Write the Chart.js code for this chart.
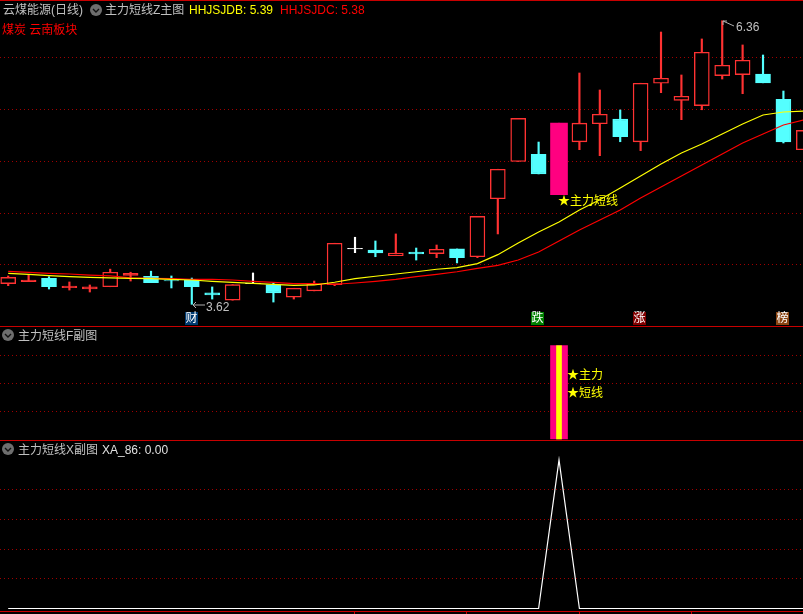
<!DOCTYPE html>
<html>
<head>
<meta charset="utf-8">
<title>云煤能源</title>
<style>
html, body { margin: 0; padding: 0; background: #000; }
#wrap { position: relative; width: 803px; height: 614px; overflow: hidden; background: #000;
    font: 12px "Liberation Sans", "Noto Sans CJK SC", sans-serif; }
.panel { position: absolute; left: 0; width: 803px; }
.panel canvas { display: block; }
.sep { position: absolute; left: 0; width: 803px; height: 1px; background: #c80000; }
.mark { position: absolute; top: 611px; width: 1px; height: 3px; background: #c80000; }
.t { position: absolute; white-space: pre; line-height: 14px; color: #c0c0c0; }
.badge { position: absolute; top: 312px; width: 13px; height: 13px; line-height: 13px; font-size: 12px; text-align: center; color: #fff; }
.icon { position: absolute; }
</style>
</head>
<body>
<div id="wrap">
    <div class="panel" style="top:1px;height:325px"><canvas id="mainChart"></canvas></div>
    <div class="panel" style="top:327px;height:113px"><canvas id="fChart"></canvas></div>
    <div class="panel" style="top:441px;height:170px"><canvas id="xChart"></canvas></div>

    <div class="sep" style="top:0"></div>
    <div class="sep" style="top:326px"></div>
    <div class="sep" style="top:440px"></div>
    <div class="sep" style="top:611px"></div>
    <div class="mark" style="left:354px"></div>
    <div class="mark" style="left:466px"></div>
    <div class="mark" style="left:579px"></div>
    <div class="mark" style="left:691px"></div>

    <span class="t" style="left:3px;top:3px">云煤能源(日线)</span>
    <svg class="icon" style="left:90px;top:4px" width="12" height="12"><circle cx="6" cy="6" r="6" fill="#6e6e6e"/><path d="M3 5l3 3 3-3" stroke="#111" stroke-width="1.4" fill="none"/></svg>
    <span class="t" style="left:105px;top:3px">主力短线Z主图</span>
    <span class="t" style="left:189px;top:3px;color:#ffff00">HHJSJDB: 5.39</span>
    <span class="t" style="left:280px;top:3px;color:#ff0000">HHJSJDC: 5.38</span>
    <span class="t" style="left:2px;top:23px;color:#ff0000">煤炭 云南板块</span>

    <svg class="icon" style="left:722px;top:20px" width="14" height="10"><path d="M1 1l11 5M1 1h4M1 1v4" stroke="#b0b0b0" fill="none"/></svg>
    <span class="t" style="left:736px;top:20px">6.36</span>
    <svg class="icon" style="left:192px;top:301px" width="14" height="8"><path d="M1 4h12M1 4l3-3M1 4l3 3" stroke="#b0b0b0" fill="none"/></svg>
    <span class="t" style="left:206px;top:300px">3.62</span>
    <span class="t" style="left:558px;top:194px;color:#ffff00">★主力短线</span>

    <div class="badge" style="left:185px;background:#003a70">财</div>
    <div class="badge" style="left:531px;background:#008000">跌</div>
    <div class="badge" style="left:633px;background:#800000">涨</div>
    <div class="badge" style="left:776px;background:#8b4513">榜</div>

    <svg class="icon" style="left:2px;top:329px" width="12" height="12"><circle cx="6" cy="6" r="6" fill="#6e6e6e"/><path d="M3 5l3 3 3-3" stroke="#111" stroke-width="1.4" fill="none"/></svg>
    <span class="t" style="left:18px;top:329px">主力短线F副图</span>
    <span class="t" style="left:567px;top:368px;color:#ffff00">★主力</span>
    <span class="t" style="left:567px;top:386px;color:#ffff00">★短线</span>

    <svg class="icon" style="left:2px;top:443px" width="12" height="12"><circle cx="6" cy="6" r="6" fill="#6e6e6e"/><path d="M3 5l3 3 3-3" stroke="#111" stroke-width="1.4" fill="none"/></svg>
    <span class="t" style="left:18px;top:443px">主力短线X副图</span>
    <span class="t" style="left:102px;top:443px;color:#e0e0e0">XA_86: 0.00</span>
</div>

<script src="https://cdn.jsdelivr.net/npm/chart.js@4/dist/chart.umd.min.js"></script>
<script>
// Prices
const opens  = [3.82, 3.84, 3.87, 3.78, 3.77, 3.79, 3.90, 3.89, 3.85, 3.855, 3.73, 3.66, 3.82, 3.81, 3.69, 3.75, 3.81, 4.155, 4.145, 4.09, 4.126, 4.11, 4.155, 4.08, 4.64, 5.00, 5.07, 4.68, 5.19, 5.365, 5.41, 5.19, 5.756, 5.59, 5.54, 5.83, 5.84, 5.845, 5.60, 5.114];
const closes = [3.88, 3.855, 3.79, 3.797, 3.788, 3.93, 3.92, 3.83, 3.845, 3.79, 3.71, 3.81, 3.826, 3.73, 3.775, 3.816, 4.21, 4.161, 4.116, 4.116, 4.106, 4.152, 4.07, 4.47, 4.925, 5.417, 4.88, 5.37, 5.37, 5.456, 5.24, 5.756, 5.804, 5.63, 6.055, 5.93, 5.978, 5.76, 5.19, 5.30];
const highs  = [3.894, 3.91, 3.887, 3.836, 3.807, 3.96, 3.93, 3.94, 3.894, 3.874, 3.788, 3.81, 3.923, 3.826, 3.775, 3.845, 4.21, 4.268, 4.232, 4.30, 4.164, 4.193, 4.155, 4.47, 4.925, 5.417, 5.188, 5.37, 5.855, 5.691, 5.498, 5.756, 6.251, 5.836, 6.184, 6.36, 6.126, 6.029, 5.681, 5.30];
const lows   = [3.80, 3.84, 3.768, 3.758, 3.739, 3.79, 3.845, 3.83, 3.778, 3.62, 3.671, 3.66, 3.82, 3.642, 3.671, 3.75, 3.80, 4.119, 4.08, 4.09, 4.048, 4.071, 4.02, 4.071, 4.30, 5.00, 4.88, 4.68, 5.114, 5.056, 5.191, 5.105, 5.665, 5.404, 5.50, 5.797, 5.655, 5.76, 5.179, 5.114];
const kinds  = ['up', 'up', 'down', 'up', 'up', 'up', 'up', 'down', 'down', 'down', 'down', 'up', 'flat', 'down', 'up', 'up', 'up', 'flat', 'down', 'up', 'down', 'up', 'down', 'up', 'up', 'up', 'down', 'signal', 'up', 'up', 'down', 'up', 'up', 'up', 'up', 'up', 'up', 'down', 'down', 'up'];

// Moving lines of the main panel
const hhjsjdb = [3.92, 3.91, 3.897, 3.887, 3.881, 3.875, 3.871, 3.868, 3.862, 3.855, 3.842, 3.833, 3.823, 3.813, 3.804, 3.807, 3.833, 3.868, 3.891, 3.913, 3.935, 3.959, 3.974, 4.013, 4.10, 4.213, 4.319, 4.415, 4.531, 4.631, 4.744, 4.86, 4.976, 5.082, 5.169, 5.266, 5.362, 5.449, 5.478, 5.488];
const hhjsjdc = [3.939, 3.929, 3.92, 3.913, 3.903, 3.894, 3.875, 3.871, 3.868, 3.862, 3.862, 3.855, 3.842, 3.833, 3.82, 3.82, 3.814, 3.826, 3.842, 3.862, 3.887, 3.91, 3.935, 3.968, 3.997, 4.048, 4.126, 4.232, 4.338, 4.435, 4.531, 4.647, 4.754, 4.86, 4.966, 5.073, 5.179, 5.266, 5.353, 5.401];

const priceTicks = [6, 5.5, 5, 4.5, 4];

// Lower panels: signal column and XA_86 line
const signalIndex = 27;
const signalValue = [1];
const xa86 = [0, 0, 0, 0, 0, 0, 0, 0, 0, 0, 0, 0, 0, 0, 0, 0, 0, 0, 0, 0, 0, 0, 0, 0, 0, 0, 0, 1, 0, 0, 0, 0, 0, 0, 0, 0, 0, 0, 0, 0];
const fTicks = [0.9, 0.6, 0.3];
const xTicks = [0.8, 0.6, 0.4, 0.2];
const dayIndex = opens.map((v, i) => i);

const RED = '#ff3232';
const CYAN = '#54ffff';
const PINK = '#ff0080';
const GRID = '#a00000';

const kindColor = { up: RED, down: CYAN, flat: '#ffffff', signal: PINK };

Chart.defaults.animation = false;
Chart.defaults.responsive = false;

function panelOptions(yMin, yMax, tickList) {
    return {
        layout: { padding: 0 },
        plugins: { legend: { display: false }, tooltip: { enabled: false } },
        scales: {
            x: { type: 'linear', min: -0.402, max: 38.96, offset: false, display: false },
            y: {
                min: yMin,
                max: yMax,
                afterFit: axis => { axis.width = 0; },
                afterBuildTicks: axis => { axis.ticks = tickList.map(v => ({ value: v })); },
                ticks: { display: false },
                border: { display: false, dash: [1, 3] },
                grid: { color: GRID, lineWidth: 1, drawTicks: false }
            }
        }
    };
}

function sizeCanvas(id, h) {
    const c = document.getElementById(id);
    c.width = 803;
    c.height = h;
    c.style.width = '803px';
    c.style.height = h + 'px';
    return c;
}

const plainDays = dayIndex.filter(i => kinds[i] !== 'signal');

// hollow only when the red body is tall enough to show a hole
function bodyFill(i) {
    if (kinds[i] !== 'up') return kindColor[kinds[i]];
    return Math.abs(closes[i] - opens[i]) < 0.021 ? RED : '#000000';
}

// Main panel
new Chart(sizeCanvas('mainChart', 325), {
    type: 'bar',
    data: {
        datasets: [
            {
                type: 'line',
                data: dayIndex.map(i => ({ x: i, y: hhjsjdc[i] })),
                borderColor: '#ff0000',
                borderWidth: 1.2,
                pointRadius: 0,
                order: 1
            },
            {
                type: 'line',
                data: dayIndex.map(i => ({ x: i, y: hhjsjdb[i] })),
                borderColor: '#ffff00',
                borderWidth: 1.2,
                pointRadius: 0,
                order: 0
            },
            {
                // corps
                data: plainDays.map(i => ({ x: i, y: [opens[i], closes[i]] })),
                backgroundColor: plainDays.map(bodyFill),
                borderColor: plainDays.map(i => kindColor[kinds[i]]),
                borderWidth: 1.4,
                borderSkipped: false,
                barThickness: 15,
                grouped: false,
                order: 2
            },
            {
                // la grosse bougie du signal
                data: [{ x: signalIndex, y: [opens[signalIndex], closes[signalIndex]] }],
                backgroundColor: PINK,
                barThickness: 17,
                grouped: false,
                order: 2
            },
            {
                // meches
                data: dayIndex.map(i => ({ x: i, y: [lows[i], highs[i]] })),
                backgroundColor: dayIndex.map(i => kindColor[kinds[i]]),
                barThickness: 1.5,
                grouped: false,
                order: 3
            }
        ]
    },
    options: panelOptions(3.4106, 6.5507, priceTicks)
});

// Signal panel
new Chart(sizeCanvas('fChart', 113), {
    type: 'bar',
    data: {
        datasets: [
            {
                data: signalValue.map(v => ({ x: signalIndex, y: v })),
                backgroundColor: '#ffff00',
                barThickness: 5,
                grouped: false,
                order: 0
            },
            {
                data: signalValue.map(v => ({ x: signalIndex, y: v })),
                backgroundColor: PINK,
                barThickness: 17,
                grouped: false,
                order: 1
            }
        ]
    },
    options: panelOptions(-0.0107, 1.2, fTicks)
});

// XA_86 panel
new Chart(sizeCanvas('xChart', 170), {
    type: 'line',
    data: {
        datasets: [{
            data: dayIndex.map(i => ({ x: i, y: xa86[i] })),
            borderColor: '#ffffff',
            borderWidth: 1.2,
            pointRadius: 0
        }]
    },
    options: panelOptions(-0.0168, 1.128, xTicks)
});
</script>
</body>
</html>
